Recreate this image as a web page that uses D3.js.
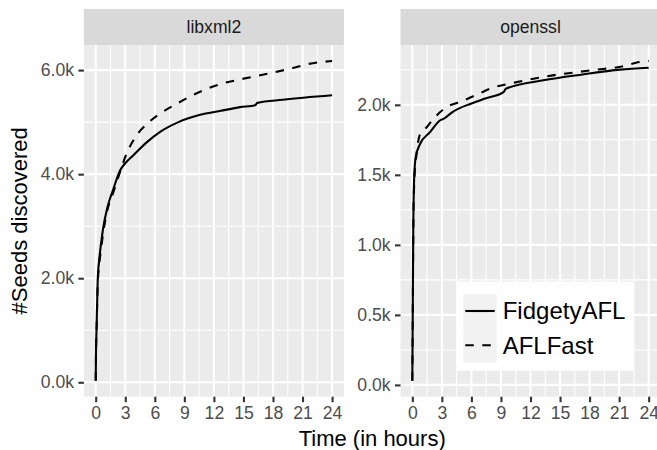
<!DOCTYPE html>
<html>
<head>
<meta charset="utf-8">
<script src="https://cdn.jsdelivr.net/npm/d3@7"></script>
<style>
  body { margin: 0; background: #fff; }
  text { font-family: "Liberation Sans", Arial, Helvetica, sans-serif; }
</style>
</head>
<body>
<svg id="chart" width="657" height="450"></svg>
<script>
// facet + series names
var panelNames = ["libxml2", "openssl"];
var seriesNames = ["FidgetyAFL", "AFLFast"];

// tick labels
var xTicks = [0, 3, 6, 9, 12, 15, 18, 21, 24];
var yTicksLibxml = [0, 2000, 4000, 6000];
var yTicksOpenssl = [0, 500, 1000, 1500, 2000];

// libxml2
var libxmlFidgetyHours = [0, 0.03, 0.08, 0.2, 0.35, 0.5, 0.77, 1.2, 1.8, 2.47, 3, 3.8, 5.2, 6.5, 8.4, 10.6, 12.6, 14.65, 16.2, 16.4, 19, 24];
var libxmlFidgetySeeds = [30, 600, 1000, 1950, 2350, 2600, 2980, 3370, 3720, 4070, 4210, 4360, 4615, 4808, 5000, 5140, 5212, 5288, 5325, 5370, 5430, 5515];
var libxmlFastHours = [0, 0.03, 0.08, 0.2, 0.35, 0.5, 0.77, 1.1, 1.8, 2.64, 3, 4, 5.2, 6.5, 8.2, 9.75, 11.3, 13, 14.5, 16.7, 19, 20, 21.4, 24];
var libxmlFastSeeds = [30, 550, 950, 1850, 2250, 2500, 2880, 3240, 3660, 4135, 4330, 4705, 4965, 5160, 5350, 5510, 5640, 5750, 5815, 5900, 5995, 6040, 6110, 6175];

// openssl
var opensslFidgetyHours = [0, 0.05, 0.1, 0.2, 0.34, 0.78, 1.8, 2.8, 3.3, 4, 6, 7.4, 9.26, 9.5, 13.3, 17.3, 21.1, 24];
var opensslFidgetySeeds = [30, 600, 1150, 1500, 1625, 1720, 1805, 1888, 1905, 1945, 2010, 2045, 2090, 2115, 2175, 2217, 2251, 2265];
var opensslFastHours = [0, 0.05, 0.1, 0.2, 0.45, 0.78, 1.46, 2, 3.3, 5.2, 6.9, 7.9, 10.6, 13.6, 18.1, 21.8, 22.7, 24];
var opensslFastSeeds = [30, 550, 1100, 1450, 1660, 1790, 1840, 1888, 1975, 2030, 2084, 2115, 2162, 2203, 2246, 2282, 2300, 2313];

function zipSeries(hours, seeds) {
   return hours.map(function(h, i) { return { t: h, v: seeds[i] }; });
}

var panels = [
   { name: panelNames[0], ticks: yTicksLibxml, series: [
      zipSeries(libxmlFidgetyHours, libxmlFidgetySeeds),
      zipSeries(libxmlFastHours, libxmlFastSeeds) ] },
   { name: panelNames[1], ticks: yTicksOpenssl, series: [
      zipSeries(opensslFidgetyHours, opensslFidgetySeeds),
      zipSeries(opensslFastHours, opensslFastSeeds) ] }
];

// layout (px)
var panelLefts = [83.9, 400.5];
var panelW = 260;
var stripTop = 9, panelTop = 45, panelBottom = 396.7;
var lineW = 2.1;
var dashes = [null, "8.5,8.5"];

var svg = d3.select("#chart");

// ggplot style: expand 5% on both sides
function expanded(lo, hi) {
   var pad = (hi - lo) * 0.05;
   return [lo - pad, hi + pad];
}

// midpoints between majors, plus one on each side if still inside
function minorBreaks(major, domain) {
   var step = major[1] - major[0];
   var out = [];
   for (var i = -1; i < major.length; i++) {
      var m = major[0] + step * (i + 0.5);
      if (m > domain[0] && m < domain[1]) out.push(m);
   }
   return out;
}

var kfmt = function(v) { return d3.format(".1f")(v / 1000) + "k"; };

panels.forEach(function(p, pi) {
   var left = panelLefts[pi];
   var all = p.series[0].concat(p.series[1]);
   var x = d3.scaleLinear().domain(expanded(0, 24)).range([left, left + panelW]);
   var y = d3.scaleLinear()
      .domain(expanded(d3.min(all, function(d) { return d.v; }), d3.max(all, function(d) { return d.v; })))
      .range([panelBottom, panelTop]);

   var g = svg.append("g").attr("class", "panel");

   g.append("clipPath").attr("id", "clip" + pi)
      .append("rect")
      .attr("x", left).attr("y", panelTop)
      .attr("width", panelW).attr("height", panelBottom - panelTop);

   g.append("rect")
      .attr("x", left).attr("y", panelTop)
      .attr("width", panelW).attr("height", panelBottom - panelTop)
      .attr("fill", "#EBEBEB");

   // grid
   var grid = g.append("g").attr("clip-path", "url(#clip" + pi + ")");
   grid.selectAll(".xminor").data(minorBreaks(xTicks, x.domain())).enter()
      .append("line")
      .attr("x1", x).attr("x2", x).attr("y1", panelTop).attr("y2", panelBottom)
      .attr("stroke", "#fff").attr("stroke-width", 1.05);
   grid.selectAll(".yminor").data(minorBreaks(p.ticks, y.domain())).enter()
      .append("line")
      .attr("y1", y).attr("y2", y).attr("x1", left).attr("x2", left + panelW)
      .attr("stroke", "#fff").attr("stroke-width", 1.05);
   grid.selectAll(".xmajor").data(xTicks).enter()
      .append("line")
      .attr("x1", x).attr("x2", x).attr("y1", panelTop).attr("y2", panelBottom)
      .attr("stroke", "#fff").attr("stroke-width", lineW);
   grid.selectAll(".ymajor").data(p.ticks).enter()
      .append("line")
      .attr("y1", y).attr("y2", y).attr("x1", left).attr("x2", left + panelW)
      .attr("stroke", "#fff").attr("stroke-width", lineW);

   // series
   var line = d3.line()
      .curve(d3.curveMonotoneX)
      .x(function(d) { return x(d.t); })
      .y(function(d) { return y(d.v); });
   grid.selectAll(".series").data(p.series).enter()
      .append("path")
      .attr("d", line)
      .attr("fill", "none")
      .attr("stroke", "#000")
      .attr("stroke-width", lineW)
      .attr("stroke-linejoin", "round")
      .attr("stroke-dasharray", function(d, i) { return dashes[i]; });

   // strip
   g.append("rect")
      .attr("x", left).attr("y", stripTop)
      .attr("width", panelW).attr("height", panelTop - stripTop)
      .attr("fill", "#D9D9D9");
   g.append("text")
      .attr("x", left + panelW / 2).attr("y", (stripTop + panelTop) / 2)
      .attr("dy", "0.35em")
      .attr("text-anchor", "middle")
      .attr("font-size", 17.6)
      .attr("fill", "#1A1A1A")
      .text(p.name);

   // axes
   var xAxis = d3.axisBottom(x).tickValues(xTicks).tickSize(5.5).tickPadding(4.4);
   var xa = g.append("g").attr("transform", "translate(0," + panelBottom + ")").call(xAxis);
   var yAxis = d3.axisLeft(y).tickValues(p.ticks).tickSize(5.5).tickPadding(4.4).tickFormat(kfmt);
   var ya = g.append("g").attr("transform", "translate(" + left + ",0)").call(yAxis);
   [xa, ya].forEach(function(a) {
      a.select(".domain").remove();
      a.selectAll(".tick line").attr("stroke", "#333333").attr("stroke-width", lineW);
      a.selectAll(".tick text")
         .attr("font-size", 17.6)
         .attr("fill", "#4D4D4D")
         .style("font-family", '"Liberation Sans", Arial, sans-serif');
   });
});

// axis titles
svg.append("text")
   .attr("x", (panelLefts[0] + panelLefts[1] + panelW) / 2)
   .attr("y", 446)
   .attr("text-anchor", "middle")
   .attr("font-size", 22)
   .attr("fill", "#000")
   .text("Time (in hours)");

svg.append("text")
   .attr("transform", "translate(27," + (panelTop + panelBottom) / 2 + ") rotate(-90)")
   .attr("text-anchor", "middle")
   .attr("font-size", 22)
   .attr("fill", "#000")
   .text("#Seeds discovered");

// legend sits inside the openssl panel
var legend = svg.append("g").attr("class", "legend");
legend.append("rect")
   .attr("x", 456.7).attr("y", 281.7)
   .attr("width", 177.3).attr("height", 89)
   .attr("fill", "#fff");

var keys = legend.selectAll(".key").data(seriesNames).enter()
   .append("g")
   .attr("transform", function(d, i) { return "translate(463.3," + (294 + i * 34.3) + ")"; });

keys.append("rect")
   .attr("width", 33.4).attr("height", 34.3)
   .attr("fill", "#F2F2F2");
keys.append("line")
   .attr("x1", 2).attr("x2", 31.4)
   .attr("y1", 17).attr("y2", 17)
   .attr("stroke", "#000")
   .attr("stroke-width", lineW)
   .attr("stroke-dasharray", function(d, i) { return dashes[i]; });
keys.append("text")
   .attr("x", 39.4).attr("y", 17)
   .attr("dy", "0.35em")
   .attr("font-size", 24)
   .attr("fill", "#000")
   .text(function(d) { return d; });
</script>
</body>
</html>
